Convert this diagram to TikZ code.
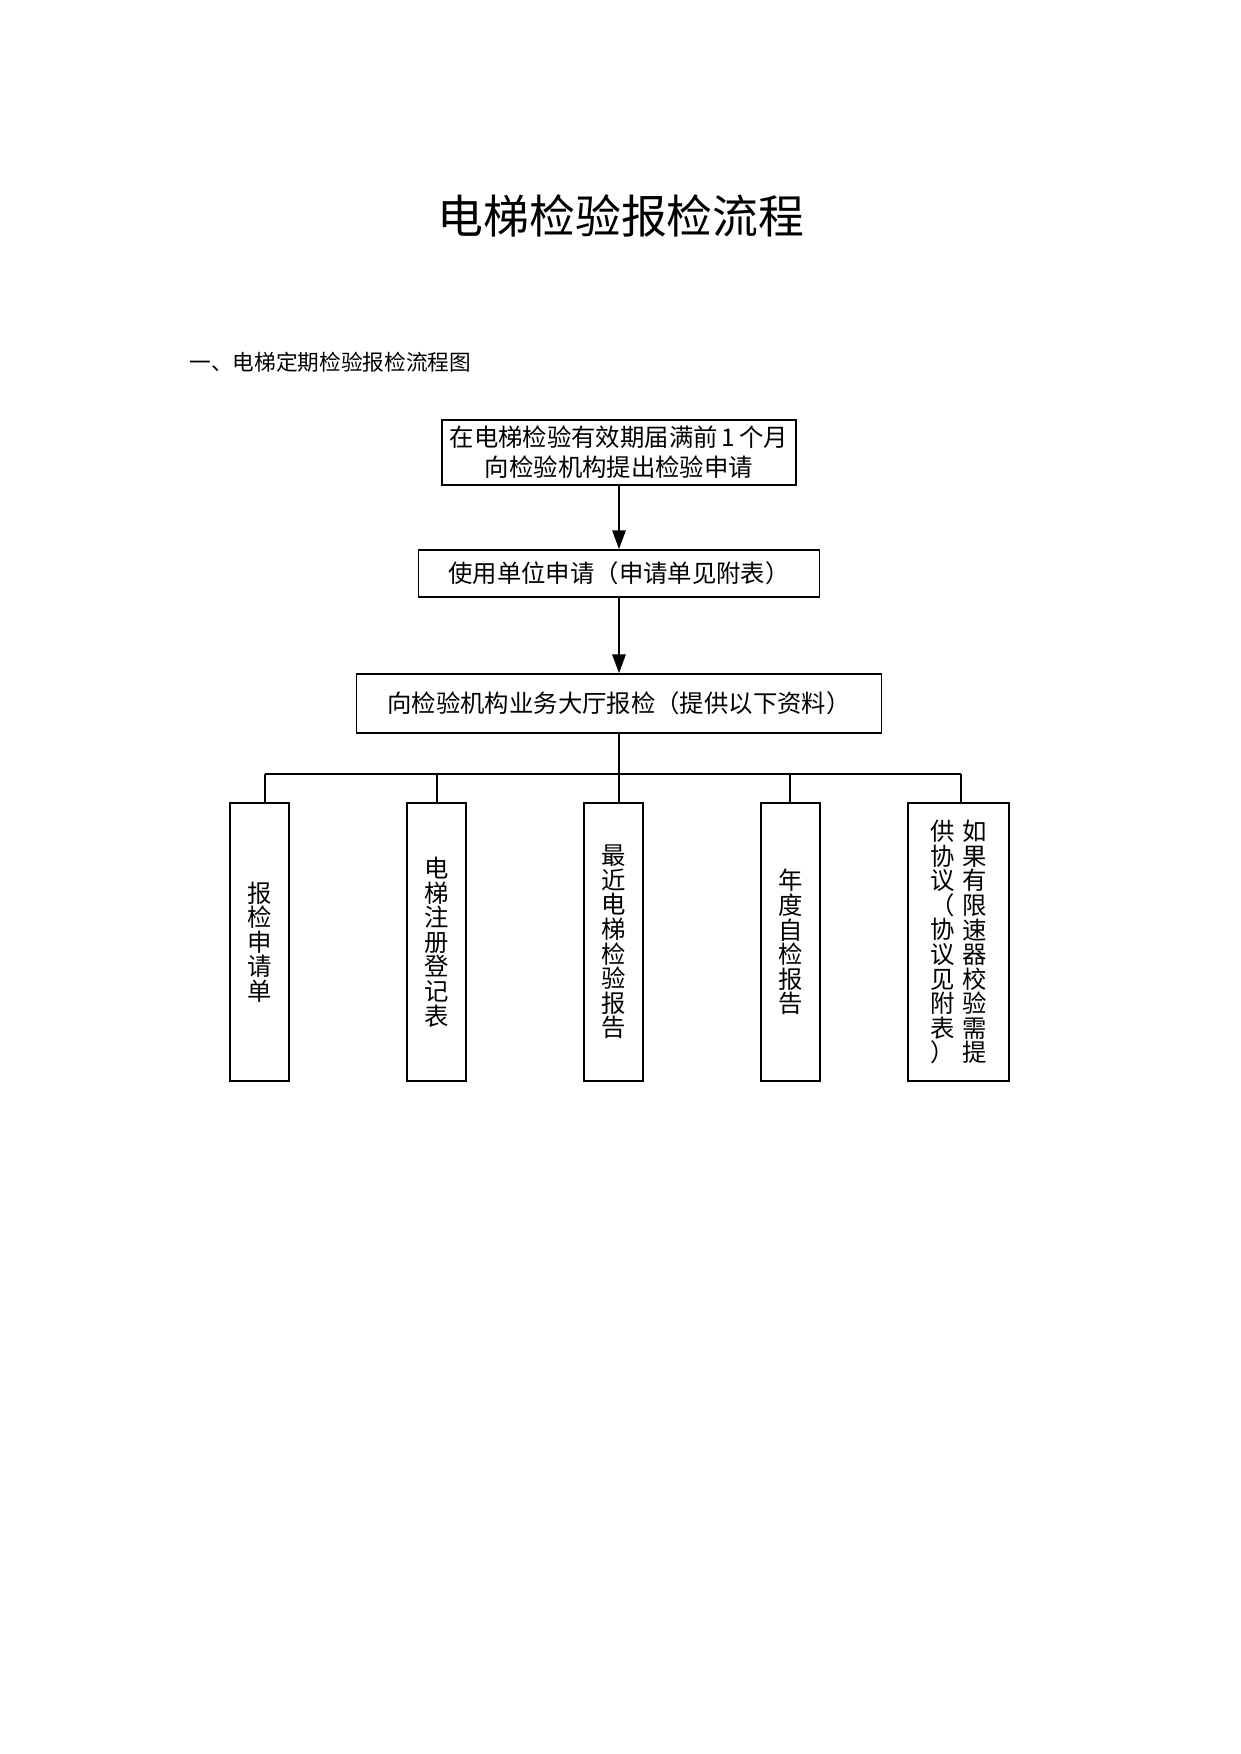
\documentclass[tikz,border=0pt]{standalone}
\usepackage{fontspec}
\setmainfont{Noto Sans CJK SC}
\usetikzlibrary{shapes,arrows.meta,calc}
\tikzstyle{line} = [draw, line width=0.9pt, -{Triangle[length=9pt,width=6.4pt]}]
\tikzstyle{link} = [draw, line width=0.9pt]
\tikzstyle{block} = [draw, line width=0.9pt, rectangle, text centered, inner sep=0pt, font=\fontsize{11.7}{14.4}\selectfont]
\tikzstyle{doc} = [block, minimum width=28.3pt, minimum height=133.4pt]
\newcommand{\vcol}[1]{\parbox{1em}{\centering\fontsize{11.7}{11.8}\selectfont #1}}

\begin{document}
\begin{tikzpicture}[x=0.48pt, y=-0.48pt, node distance=58.1pt]
        \useasboundingbox (0,0) rectangle (1241,1754);
        \node[font=\fontsize{22}{26}\selectfont] (title) at (621,216) {电梯检验报检流程};
        \node[anchor=west, inner sep=0pt, font=\fontsize{10.4}{12}\selectfont] (subtitle) at (189,362) {一、电梯定期检验报检流程图};
        \node[block, align=center, minimum width=169.9pt, minimum height=31.2pt] (apply) at (619,452.5) {在电梯检验有效期届满前\,1\,个月\\向检验机构提出检验申请};
        \node[block, below of=apply, minimum width=192.5pt, minimum height=22.6pt] (unit) {使用单位申请（申请单见附表）};
        \node[block, below of=unit, node distance=62.4pt, minimum width=252pt, minimum height=28.3pt] (hall) {向检验机构业务大厅报检（提供以下资料）};
        \node[doc, below of=hall, node distance=114.5pt, xshift=-2.6pt] (recent) {\vcol{最\\近\\电\\梯\\检\\验\\报\\告}};
        \node[doc, left of=recent, node distance=84.96pt] (register) {\vcol{电\\梯\\注\\册\\登\\记\\表}};
        \node[doc, left of=register, node distance=84.96pt] (form) {\vcol{报\\检\\申\\请\\单}};
        \node[doc, right of=recent, node distance=84.96pt] (selfcheck) {\vcol{年\\度\\自\\检\\报\\告}};
        \node[doc, right of=selfcheck, node distance=80.64pt, minimum width=48.5pt] (governor) {\vcol{供\\协\\议\\（\\协\\议\\见\\附\\表\\）}\hspace{3.7pt}\vcol{如\\果\\有\\限\\速\\器\\校\\验\\需\\提}};
        \coordinate (busA) at (265,774);
        \coordinate (busB) at (437,774);
        \coordinate (busC) at (619,774);
        \coordinate (busD) at (790,774);
        \coordinate (busE) at (961,774);
        \path[line] (apply) -- (unit);
        \path[line] (unit) -- (hall);
        \path[link] (hall) -- (busC);
        \path[link] (busA) -- (busE);
        \foreach \b/\n in {A/form, B/register, C/recent, D/selfcheck, E/governor}
            \path[link] (bus\b) -- (bus\b |- \n.north);
\end{tikzpicture}
\end{document}
